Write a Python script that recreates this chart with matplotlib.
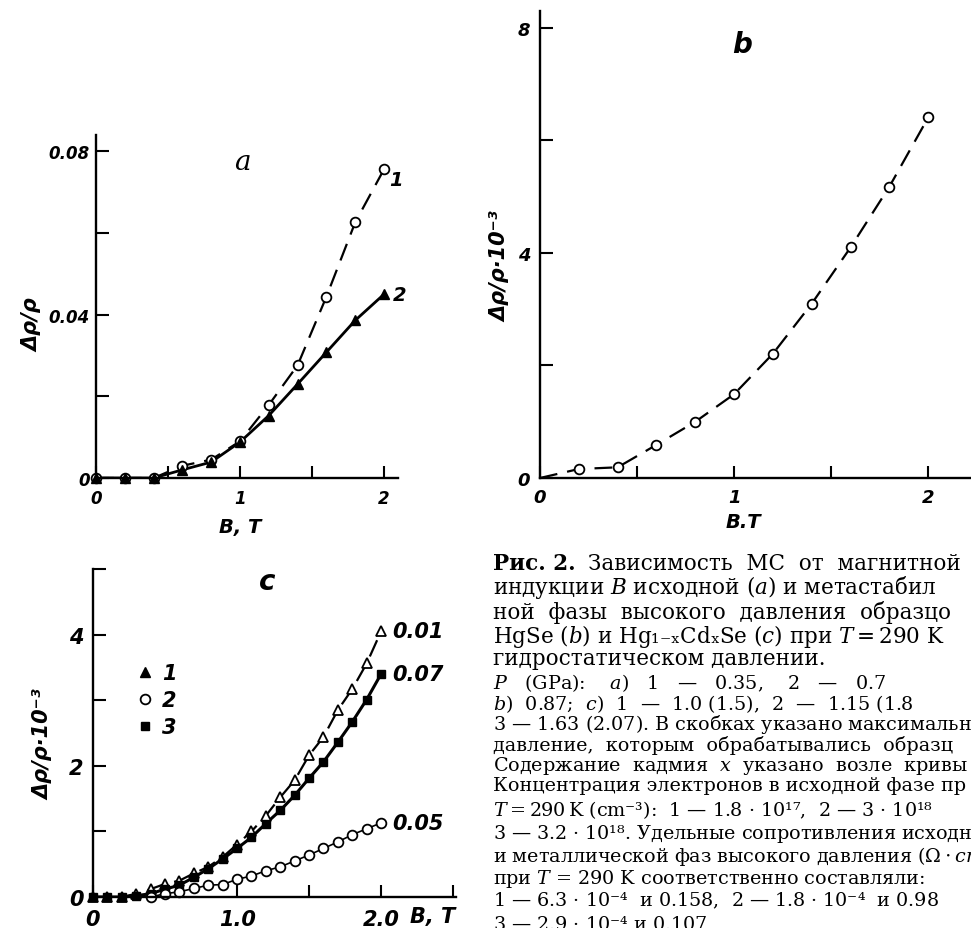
import matplotlib
matplotlib.use("Agg")
import matplotlib.pyplot as plt
from matplotlib.lines import Line2D
import numpy as np

plt.rcParams['font.family'] = 'DejaVu Sans'
plt.rcParams['mathtext.fontset'] = 'dejavuserif'

W, H = 971, 929

# ---- panel a: HgSe initial phase ----
a_B = [0, 0.2, 0.4, 0.6, 0.8, 1.0, 1.2, 1.4, 1.6, 1.8, 2.0]
a_mr1 = [0, 0, 0, 0.003, 0.0045, 0.009, 0.0179, 0.0276, 0.0444, 0.0626, 0.0756]
a_mr2 = [0, 0, 0, 0.002, 0.0039, 0.0088, 0.0153, 0.023, 0.0308, 0.0386, 0.045]

# ---- panel b: HgSe metastable phase ----
b_B = [0.2, 0.4, 0.6, 0.8, 1.0, 1.2, 1.4, 1.6, 1.8, 2.0]
b_mr = [0.16, 0.19, 0.59, 1.0, 1.49, 2.21, 3.10, 4.10, 5.18, 6.41]

# ---- panel c: Hg1-xCdxSe ----
c_B = [0.0, 0.1, 0.2, 0.3, 0.4, 0.5, 0.6, 0.7, 0.8, 0.9, 1.0,
       1.1, 1.2, 1.3, 1.4, 1.5, 1.6, 1.7, 1.8, 1.9, 2.0]
c_mr1 = [0, 0, 0, 0.05, 0.12, 0.20, 0.25, 0.36, 0.46, 0.61, 0.80,
         1.00, 1.24, 1.52, 1.78, 2.16, 2.44, 2.85, 3.17, 3.56, 4.05]
c_mr3 = [0, 0, 0, 0.02, 0.05, 0.12, 0.18, 0.30, 0.43, 0.58, 0.74,
         0.91, 1.12, 1.32, 1.55, 1.81, 2.06, 2.36, 2.67, 3.01, 3.40]
c_B2 = [0.4, 0.5, 0.6, 0.7, 0.8, 0.9, 1.0, 1.1, 1.2, 1.3, 1.4,
        1.5, 1.6, 1.7, 1.8, 1.9, 2.0]
c_mr2 = [0, 0.05, 0.08, 0.13, 0.18, 0.19, 0.27, 0.32, 0.40, 0.46, 0.55,
         0.64, 0.74, 0.84, 0.95, 1.04, 1.13]
c_labels = ['0.01', '0.05', '0.07']

tick_font = dict(style='italic', weight='bold')
dash = (8, 4.5)


def fx(x):
    return x / W


def fy(y):
    return 1 - y / H


def style(ax, size, xpad, ypad):
    for s in ['top', 'right']:
        ax.spines[s].set_visible(False)
    for s in ['left', 'bottom']:
        ax.spines[s].set_linewidth(1.7)
    ax.tick_params(direction='in', length=9, width=1.5)
    ax.tick_params(axis='x', pad=xpad)
    ax.tick_params(axis='y', pad=ypad)
    for lab in ax.get_xticklabels() + ax.get_yticklabels():
        lab.set_fontsize(size)
        lab.set_fontstyle('italic')
        lab.set_fontweight('bold')


fig = plt.figure(figsize=(W / 100, H / 100), dpi=100)

# panel a
axa = fig.add_axes([fx(96), fy(479), 302.4 / W, 343 / H])
axa.plot(a_B, a_mr1, color='k', lw=1.6, dashes=dash)
axa.plot(a_B, a_mr2, color='k', lw=2.0)
axa.plot(a_B, a_mr1, 'o', color='k', mfc='white', ms=7, mew=1.3, clip_on=False)
axa.plot(a_B, a_mr2, '^', color='k', ms=7, clip_on=False)
axa.set_xlim(0, 2.1)
axa.set_ylim(0, 0.084)
axa.set_xticks([0, 0.5, 1, 1.5, 2])
axa.set_xticklabels(['0', '', '1', '', '2'])
axa.set_yticks([0, 0.02, 0.04, 0.06, 0.08])
axa.set_yticklabels(['0', '', '0.04', '', '0.08'])
style(axa, 12, 8, 4.5)
axa.text(2.08, 0.0731, '1', fontsize=14, ha='center', va='center', **tick_font)
axa.text(2.11, 0.045, '2', fontsize=14, ha='center', va='center', **tick_font)
fig.text(fx(242), fy(163), 'a', fontsize=20, family='DejaVu Serif', style='italic',
         ha='center', va='center')
fig.text(fx(32), fy(325), 'Δρ/ρ', fontsize=15, rotation=90, ha='center', va='center',
         **tick_font)
fig.text(fx(240), fy(528), 'B, T', fontsize=14, ha='center', va='center', **tick_font)

# panel b
axb = fig.add_axes([fx(540), fy(479), 431 / W, 467 / H])
axb.plot(np.r_[0, b_B], np.r_[0, b_mr], color='k', lw=1.6, dashes=dash)
axb.plot(b_B, b_mr, 'o', color='k', mfc='white', ms=7, mew=1.3)
axb.set_xlim(0, 2.22)
axb.set_ylim(0, 8.3)
axb.set_xticks([0, 0.5, 1, 1.5, 2])
axb.set_xticklabels(['0', '', '1', '', '2'])
axb.set_yticks([0, 2, 4, 6, 8])
axb.set_yticklabels(['0', '', '4', '', '8'])
style(axb, 13, 7, 7)
fig.text(fx(742), fy(45), 'b', fontsize=20, style='italic', weight='bold',
         ha='center', va='center')
fig.text(fx(500), fy(267), 'Δρ/ρ·10⁻³', fontsize=15, rotation=90, ha='center',
         va='center', **tick_font)
fig.text(fx(743), fy(522), 'B.T', fontsize=14, ha='center', va='center', **tick_font)

# panel c
axc = fig.add_axes([fx(93), fy(898), 363 / W, 328 / H])
axc.plot(c_B, c_mr1, color='k', lw=1.6, dashes=dash)
axc.plot(c_B, c_mr3, color='k', lw=2.2)
axc.plot(c_B2, c_mr2, color='k', lw=1.2)
axc.plot(c_B, c_mr1, '^', color='k', mfc='white', ms=7, mew=1.3, clip_on=False)
axc.plot(c_B, c_mr3, 's', color='k', ms=6, clip_on=False)
axc.plot(c_B2, c_mr2, 'o', color='k', mfc='white', ms=7, mew=1.3, clip_on=False)
axc.set_xlim(0, 2.52)
axc.set_ylim(0, 5.0)
axc.set_xticks([0, 0.5, 1, 1.5, 2, 2.5])
axc.set_xticklabels(['0', '', '1.0', '', '2.0', ''])
axc.set_yticks([0, 1, 2, 3, 4, 5])
axc.set_yticklabels(['0', '', '2', '', '4', ''])
style(axc, 15, 8.5, 7)
for yv, lab in zip([c_mr1[-1], c_mr2[-1], c_mr3[-1]], c_labels):
    axc.annotate(lab, xy=(2.0, yv), xytext=(8, 0), textcoords='offset points',
                 fontsize=15, ha='left', va='center', **tick_font)
handles = [Line2D([], [], marker='^', ls='none', color='k', ms=7),
           Line2D([], [], marker='o', ls='none', color='k', mfc='white', ms=7, mew=1.3),
           Line2D([], [], marker='s', ls='none', color='k', ms=6)]
axc.legend(handles, ['1', '2', '3'], loc='center left', bbox_to_anchor=(0.07, 0.60),
           frameon=False, handlelength=0.8, handletextpad=0.4, labelspacing=0.35,
           prop=dict(size=15, style='italic', weight='bold'))
fig.text(fx(267), fy(582), 'c', fontsize=20, style='italic', weight='bold',
         ha='center', va='center')
fig.text(fx(43), fy(745), 'Δρ/ρ·10⁻³', fontsize=15, rotation=90, ha='center',
         va='center', **tick_font)
fig.text(fx(433), fy(917), 'B, T', fontsize=15, ha='center', va='center', **tick_font)

# caption (cut at the right edge as in the scan)
caption_big = [
    (588, 'индукции $B$ исходной ($a$) и метастабил'),
    (612, 'ной  фазы  высокого  давления  образцо'),
    (636, 'HgSe ($b$) и Hg₁₋ₓCdₓSe ($c$) при $T = 290$ K'),
    (659, 'гидростатическом давлении.'),
]
caption_small = [
    (683, '$P$   (GPa):    $a$)   $\\mathit{1}$   —   0.35,    $\\mathit{2}$   —   0.7'),
    (704, '$b$)  0.87;  $c$)  $\\mathit{1}$  —  1.0 (1.5),  $\\mathit{2}$  —  1.15 (1.8'),
    (725, '$\\mathit{3}$ — 1.63 (2.07). В скобках указано максимальн'),
    (746, 'давление,  которым  обрабатывались  образц'),
    (766, 'Содержание  кадмия  $x$  указано  возле  кривы'),
    (786, 'Концентрация электронов в исходной фазе пр'),
    (810, '$T = 290\\,$K (cm⁻³):  $\\mathit{1}$ — 1.8 · 10¹⁷,  $\\mathit{2}$ — 3 · 10¹⁸'),
    (834, '$\\mathit{3}$ — 3.2 · 10¹⁸. Удельные сопротивления исходно'),
    (857, 'и металлической фаз высокого давления ($\\Omega\\cdot cm$)'),
    (879, 'при $T$ = 290 K соответственно составляли:'),
    (901, '$\\mathit{1}$ — 6.3 · 10⁻⁴  и 0.158,  $\\mathit{2}$ — 1.8 · 10⁻⁴  и 0.98'),
    (925, '$\\mathit{3}$ — 2.9 · 10⁻⁴ и 0.107'),
]
cap_x = fx(493)
t0 = fig.text(cap_x, fy(564), 'Рис. 2.', fontsize=15.5, family='DejaVu Serif',
              weight='bold', ha='left', va='center')
axa.annotate('Зависимость  МС  от  магнитной', xy=(1, 0.5), xycoords=t0,
             xytext=(9, 0), textcoords='offset points', fontsize=15.5,
             family='DejaVu Serif', ha='left', va='center', annotation_clip=False)
for yp, line in caption_big:
    fig.text(cap_x, fy(yp), line, fontsize=15.5, family='DejaVu Serif',
             ha='left', va='center')
for yp, line in caption_small:
    fig.text(cap_x, fy(yp), line, fontsize=13.8, family='DejaVu Serif',
             ha='left', va='center')

fig.savefig('out.png', dpi=100)
